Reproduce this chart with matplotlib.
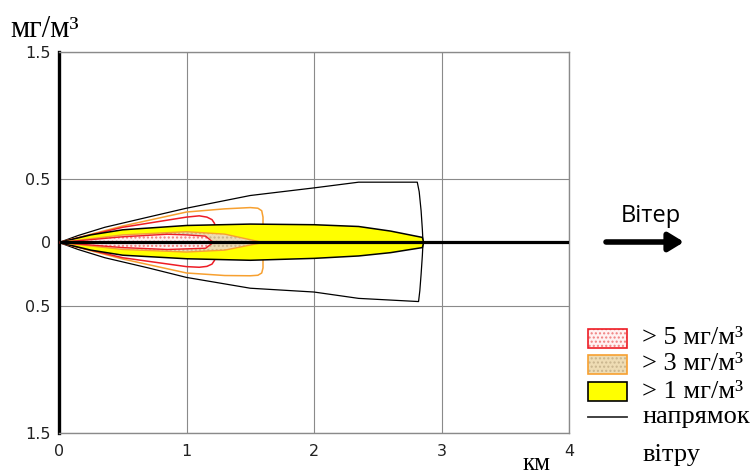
import matplotlib
matplotlib.use("Agg")
import matplotlib.pyplot as plt
from matplotlib.patches import Polygon, Rectangle
from matplotlib.lines import Line2D

# ---------------- data (km along wind, km across) ----------------
outer_x = [0, 0.15, 0.36, 0.7, 1.0, 1.5, 2.0, 2.35, 2.81, 2.825, 2.84, 2.85, 2.855, 2.85,
           2.84, 2.83, 2.82, 2.35, 2.0, 1.5, 1.0, 0.7, 0.36, 0.15, 0]
outer_y = [0, 0.055, 0.12, 0.2, 0.27, 0.37, 0.43, 0.475, 0.475, 0.4, 0.25, 0.1, 0.0, -0.1,
           -0.25, -0.38, -0.465, -0.44, -0.39, -0.36, -0.275, -0.2, -0.12, -0.055, 0]

orange_x = [0, 0.5, 1.0, 1.3, 1.5, 1.56, 1.59, 1.6, 1.6, 1.59, 1.56, 1.5, 1.3, 1.0, 0.5, 0]
orange_y = [0, 0.13, 0.24, 0.265, 0.275, 0.27, 0.25, 0.2, -0.2, -0.24, -0.258, -0.262,
            -0.26, -0.24, -0.13, 0]

red_x = [0, 0.5, 1.0, 1.1, 1.16, 1.2, 1.22, 1.22, 1.2, 1.16, 1.1, 1.0, 0.5, 0]
red_y = [0, 0.12, 0.2, 0.21, 0.2, 0.18, 0.15, -0.14, -0.17, -0.188, -0.195, -0.19, -0.12, 0]

yellow_x = [0, 0.25, 0.5, 1.0, 1.5, 2.0, 2.35, 2.6, 2.85, 2.86, 2.85, 2.6, 2.35, 2.0,
            1.5, 1.0, 0.5, 0.25, 0]
yellow_y = [0, 0.06, 0.1, 0.134, 0.145, 0.14, 0.126, 0.09, 0.04, 0, -0.04, -0.08, -0.106,
            -0.125, -0.14, -0.128, -0.1, -0.06, 0]

beige_x = [0, 0.5, 1.0, 1.3, 1.6, 1.3, 1.0, 0.5, 0]
beige_y = [0, 0.06, 0.085, 0.066, 0, -0.06, -0.075, -0.055, 0]

pink_x = [0, 0.5, 0.85, 1.0, 1.15, 1.21, 1.15, 1.0, 0.85, 0.5, 0]
pink_y = [0, 0.045, 0.065, 0.06, 0.05, 0, -0.045, -0.05, -0.055, -0.04, 0]

wind_x = [0, 4]
wind_y = [0, 0]

x_ticks = [0, 1, 2, 3, 4]
x_labels = ["0", "1", "2", "3", "4"]
y_ticks = [-1.5, -0.5, 0, 0.5, 1.5]
y_labels = ["1.5", "0.5", "0", "0.5", "1.5"]

legend_labels = ["> 5 мг/м³", "> 3 мг/м³", "> 1 мг/м³", "напрямок", "вітру"]

# ---------------- styling ----------------
RED = "#ee1c25"
ORANGE = "#f7a030"
YELLOW = "#ffff00"
BEIGE = "#eedcb4"
PINK = "#fff2f2"
GRID = "#8a8a8a"
SERIF = ["Liberation Serif", "DejaVu Serif"]
SANS = ["Open Sans", "DejaVu Sans"]

fig = plt.figure(figsize=(7.54, 4.74), dpi=100)
W, H = 754, 474
ax = fig.add_axes([59 / W, 1 - 433 / H, 510 / W, 381 / H])
ax.set_xlim(0, 4)
ax.set_ylim(-1.5, 1.5)

ax.set_xticks(x_ticks)
ax.set_xticklabels(x_labels)
ax.set_yticks(y_ticks)
ax.set_yticklabels(y_labels)
ax.tick_params(length=0, labelsize=11.5, labelcolor="#222222")
ax.tick_params(axis="x", pad=8)
ax.tick_params(axis="y", pad=6)
ax.grid(True, color=GRID, lw=0.8)
ax.set_axisbelow(True)
for s in ["top", "right", "bottom"]:
    ax.spines[s].set_color(GRID)
    ax.spines[s].set_linewidth(1.0)
ax.spines["left"].set_color("black")
ax.spines["left"].set_linewidth(2.4)


def poly(x, y, **kw):
    return Polygon(list(zip(x, y)), closed=True, **kw)


# outer contours (lines only)
ax.add_patch(poly(outer_x, outer_y, facecolor="none", edgecolor="black", lw=0.9,
                  joinstyle="round", zorder=3))
ax.add_patch(poly(orange_x, orange_y, facecolor="none", edgecolor=ORANGE, lw=1.1,
                  joinstyle="round", zorder=3))
ax.add_patch(poly(red_x, red_y, facecolor="none", edgecolor=RED, lw=1.1,
                  joinstyle="round", zorder=3))

# yellow zone
ax.add_patch(poly(yellow_x, yellow_y, facecolor=YELLOW, edgecolor="black", lw=1.1, zorder=4))
# beige zone
ax.add_patch(poly(beige_x, beige_y, facecolor=BEIGE, edgecolor="none", lw=0, zorder=5))
ax.add_patch(poly(beige_x, beige_y, facecolor="none", edgecolor="#c9b58e", hatch="....",
                  lw=0, zorder=5))
ax.add_patch(poly(beige_x, beige_y, facecolor="none", edgecolor=ORANGE, lw=1.0, zorder=5))
# pink zone
ax.add_patch(poly(pink_x, pink_y, facecolor=PINK, edgecolor="none", lw=0, zorder=6))
ax.add_patch(poly(pink_x, pink_y, facecolor="none", edgecolor="#f08080", hatch="....",
                  lw=0, zorder=6))
ax.add_patch(poly(pink_x, pink_y, facecolor="none", edgecolor=RED, lw=1.0, zorder=6))

# wind direction
ax.plot(wind_x, wind_y, color="black", lw=2.3, zorder=7, solid_capstyle="butt")

# axis labels
fig.text(10 / W, 1 - 37 / H, "мг/м³", family=SERIF, fontsize=22, va="baseline", ha="left")
fig.text(537 / W, 1 - 453 / H, "км", family=SERIF, fontsize=18, va="top", ha="center")

# wind arrow
fig.text(651 / W, 1 - 216 / H, "Вітер", family=SANS, fontsize=17, va="center", ha="center")
ax.annotate("", xy=(684, H - 242), xytext=(606, H - 242), xycoords="figure pixels",
            textcoords="figure pixels", annotation_clip=False,
            arrowprops=dict(arrowstyle="-|>,head_length=0.9,head_width=0.55", lw=4,
                            color="black", capstyle="round", shrinkA=0, shrinkB=0))

# legend (manual)
px, pw, ph = 588, 39, 19
tx = 642
specs = [
    (329, PINK, RED, "#f08080"),
    (355, BEIGE, ORANGE, "#c9b58e"),
    (382, YELLOW, "black", None),
]
for (top, fc, ec, hc), lab in zip(specs, legend_labels[:3]):
    fig.add_artist(Rectangle((px / W, 1 - (top + ph) / H), pw / W, ph / H,
                             transform=fig.transFigure, facecolor=fc, edgecolor="none"))
    if hc:
        fig.add_artist(Rectangle((px / W, 1 - (top + ph) / H), pw / W, ph / H,
                                 transform=fig.transFigure, facecolor="none",
                                 edgecolor=hc, hatch="....", lw=0))
    fig.add_artist(Rectangle((px / W, 1 - (top + ph) / H), pw / W, ph / H,
                             transform=fig.transFigure, facecolor="none",
                             edgecolor=ec, lw=1.2))
    fig.text(tx / W, 1 - (top + ph / 2) / H, lab, family=SERIF, fontsize=19,
             va="center", ha="left")

fig.add_artist(Line2D([px / W, (px + pw) / W], [1 - 417 / H, 1 - 417 / H],
                      transform=fig.transFigure, color="#333333", lw=1.3))
fig.text(tx / W, 1 - 423 / H, legend_labels[3], family=SERIF, fontsize=19,
         va="baseline", ha="left")
fig.text(tx / W, 1 - 461 / H, legend_labels[4], family=SERIF, fontsize=19,
         va="baseline", ha="left")

fig.savefig("out.png", dpi=100)
